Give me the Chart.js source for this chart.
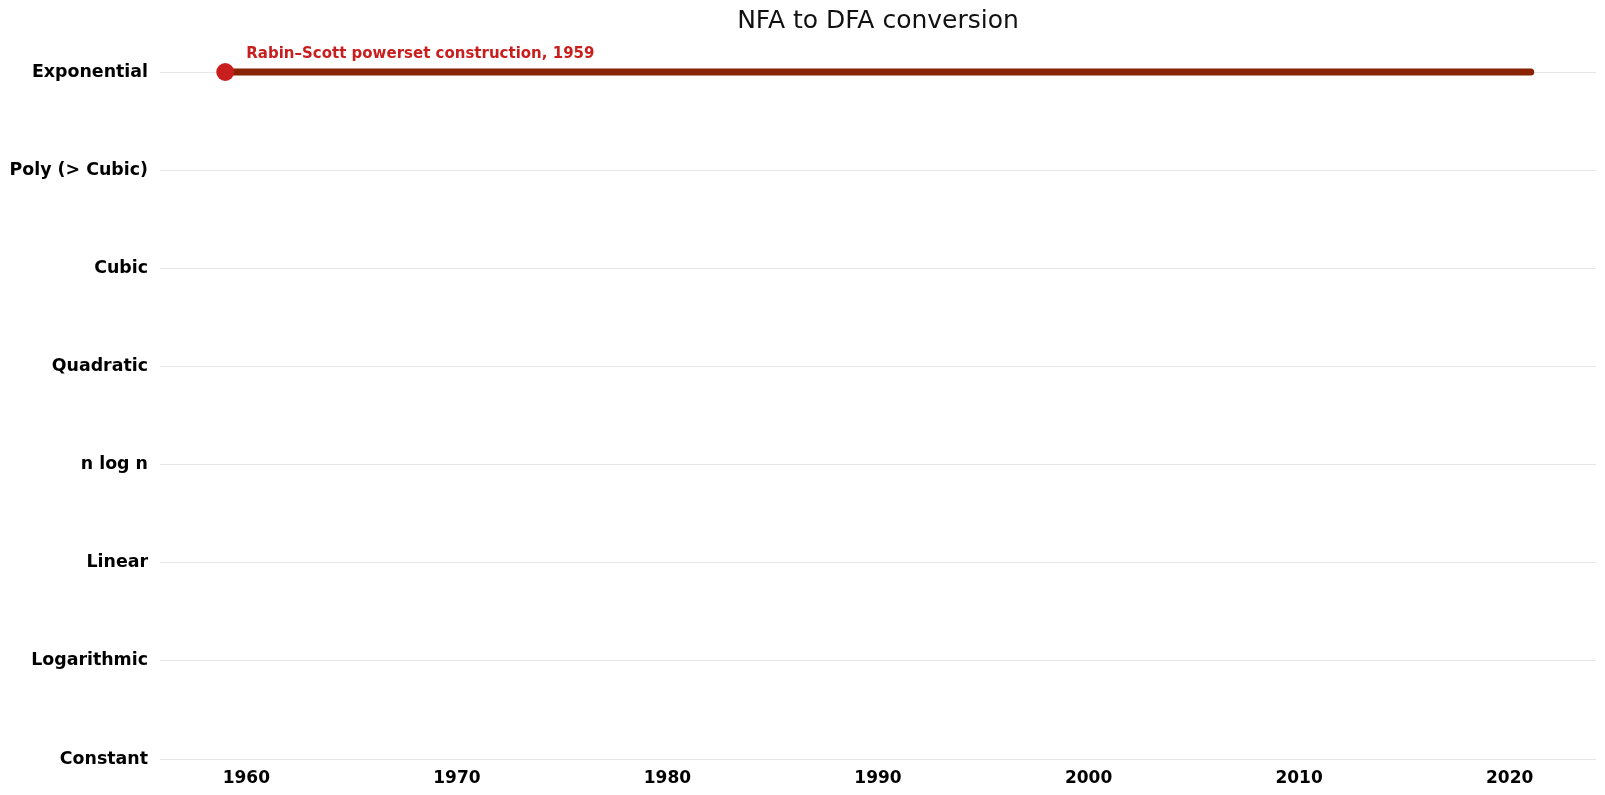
<!DOCTYPE html>
<html>
<head>
<meta charset="utf-8">
<script src="https://cdn.jsdelivr.net/npm/chart.js@4"></script>
<style>
html,body{margin:0;padding:0;background:#fff;}
#wrap{width:1605px;height:795px;}
</style>
</head>
<body>
<div id="wrap"><canvas id="c" width="1605" height="795"></canvas></div>
<script>
const complexityLabels = ["Constant","Logarithmic","Linear","n log n","Quadratic","Cubic","Poly (> Cubic)","Exponential"];
const xTickYears = [1960,1970,1980,1990,2000,2010,2020];
const lineYears = [1959, 2021];
const lineLevels = [7, 7];
const pointLabels = ["Rabin–Scott powerset construction, 1959", ""];
const xRange = [1955.9, 2024.1];

const labelPlugin = {
  id: 'annot',
  afterDatasetsDraw(chart) {
    const ctx = chart.ctx;
    const xs = chart.scales.x, ys = chart.scales.y;
    ctx.save();
    ctx.font = 'bold 15px "DejaVu Sans"';
    ctx.fillStyle = '#c81e1e';
    ctx.textBaseline = 'middle';
    ctx.textAlign = 'left';
    lineYears.forEach((yr, i) => {
      if (!pointLabels[i]) return;
      const px = xs.getPixelForValue(yr), py = ys.getPixelForValue(lineLevels[i]);
      ctx.fillText(pointLabels[i], px + 21, py - 18);
    });
    ctx.restore();
  }
};

new Chart(document.getElementById('c'), {
  type: 'line',
  data: {
    datasets: [{
      data: lineYears.map((x, i) => ({x, y: lineLevels[i]})),
      borderColor: '#882200',
      borderWidth: 7,
      borderCapStyle: 'round',
      pointRadius: [9, 0],
      pointHoverRadius: [9, 0],
      pointBackgroundColor: '#c81e1e',
      pointBorderWidth: 0,
      tension: 0,
      clip: false
    }]
  },
  options: {
    responsive: false,
    animation: false,
    devicePixelRatio: 1,
    layout: {padding: {left: 0, right: 8, top: 0, bottom: 0}},
    plugins: {
      legend: {display: false},
      tooltip: {enabled: false},
      title: {
        display: true,
        fullSize: false,
        text: 'NFA to DFA conversion',
        color: '#111',
        font: {family: '"DejaVu Sans"', size: 25, weight: 'normal'},
        padding: {top: 6, bottom: 36}
      }
    },
    scales: {
      x: {
        type: 'linear',
        min: xRange[0], max: xRange[1],
        afterBuildTicks(s) { s.ticks = xTickYears.map(v => ({value: v})); },
        afterFit(s) { s.height = 36; },
        grid: {display: false, drawTicks: false},
        border: {display: false},
        ticks: {
          color: '#000',
          font: {family: '"DejaVu Sans"', size: 17, weight: 'bold'},
          padding: 9,
          maxRotation: 0,
          callback: v => String(v)
        }
      },
      y: {
        type: 'linear',
        min: 0, max: 7,
        afterFit(s) { s.width = 160; },
        afterBuildTicks(s) { s.ticks = complexityLabels.map((_, i) => ({value: i})); },
        grid: {color: '#e6e6e6', lineWidth: 1, drawTicks: false},
        border: {display: false},
        ticks: {
          color: '#000',
          font: {family: '"DejaVu Sans"', size: 17.4, weight: 'bold'},
          padding: 12,
          callback: v => complexityLabels[v]
        }
      }
    }
  },
  plugins: [labelPlugin]
});
</script>
</body>
</html>
